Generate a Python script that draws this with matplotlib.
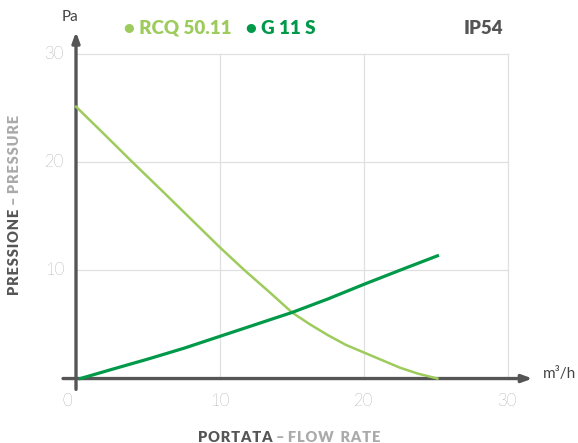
import matplotlib.pyplot as plt
import numpy as np

# curve data
rcq_x = [0, 2, 3.9, 6, 8, 10, 11.7, 13.5, 15, 16.25, 17.5, 18.75, 20, 21.25, 22.5, 23.75, 25.1]
rcq_y = [25.1, 22.5, 20.0, 17.3, 14.7, 12.1, 10.0, 7.9, 6.1, 5.0, 4.0, 3.1, 2.4, 1.7, 1.0, 0.45, 0.0]
g11_x = [0.3, 2.5, 5, 7.5, 10, 12.5, 15, 17.5, 20, 22.5, 25.1]
g11_y = [0.0, 0.85, 1.8, 2.8, 3.9, 5.0, 6.1, 7.35, 8.7, 10.0, 11.33]
ticks = [0, 10, 20, 30]

LIGHT = '#9dcb5c'
DARK = '#00994a'
AXC = '#555555'

plt.rcParams['font.family'] = ['Lato', 'DejaVu Sans']

fig = plt.figure(figsize=(5.78, 4.43), dpi=100)
ax = fig.add_axes([0.1315, 0.1455, 0.7474, 0.7336])
ax.set_xlim(0, 30)
ax.set_ylim(0, 30)
for s in ax.spines.values():
    s.set_visible(False)
ax.set_xticks([])
ax.set_yticks([])

# grid
for t in ticks[1:]:
    ax.plot([t, t], [0, 30], color='#e0e0e0', lw=0.9, zorder=1, clip_on=False)
    ax.plot([0, 30], [t, t], color='#e0e0e0', lw=0.9, zorder=1, clip_on=False)

# axes with arrows
arr = dict(arrowstyle='-|>,head_length=0.6,head_width=0.22', color=AXC, lw=2.4,
           shrinkA=0, shrinkB=0)
ax.annotate('', xy=(31.7, 0), xytext=(-0.9, 0), arrowprops=arr,
            annotation_clip=False, zorder=3)
ax.annotate('', xy=(0, 32.0), xytext=(0, -1.0), arrowprops=arr,
            annotation_clip=False, zorder=3)

ax.plot(rcq_x, rcq_y, color=LIGHT, lw=1.8, zorder=4, clip_on=False)
ax.plot(g11_x, g11_y, color=DARK, lw=2.3, zorder=4, clip_on=False)

# tick labels
for t in ticks:
    ax.text(t - (0.6 if t == 0 else 0), -1.3, str(t), ha='center', va='top',
            fontsize=12, color='#5a5a5a', fontweight='light')
for t in ticks[1:]:
    ax.text(-0.8, t, str(t), ha='right', va='center',
            fontsize=12, color='#5a5a5a', fontweight='light')

ax.text(-0.45, 32.7, 'Pa', ha='center', va='bottom', fontsize=11, color='#444444')
ax.text(32.4, 0.4, 'm³/h', ha='left', va='center', fontsize=11, color='#444444')

# legend / header
fig.text(124 / 578, 1 - 28 / 443, '• RCQ 50.11', color=LIGHT, fontsize=13.5,
         fontweight='heavy', va='center', ha='left')
fig.text(246 / 578, 1 - 28 / 443, '• G 11 S', color=DARK, fontsize=13.5,
         fontweight='heavy', va='center', ha='left')
fig.text(503 / 578, 1 - 28 / 443, 'IP54', color=AXC, fontsize=13.5,
         fontweight='heavy', va='center', ha='right')


def spaced(s):
    return '\u200a'.join(s)


# axis titles
fig.text(276 / 578, 1 - 438 / 443, spaced('PORTATA') + ' ', color=AXC, fontsize=10.5,
         fontweight='heavy', ha='right', va='center')
fig.text(276 / 578, 1 - 438 / 443, '– ' + spaced('FLOW') + '  ' + spaced('RATE'),
         color='#aaaaaa', fontsize=10.5, fontweight='heavy', ha='left', va='center')
fig.text(15 / 578, 1 - 205 / 443, spaced('PRESSIONE') + ' ', color=AXC, fontsize=10.5,
         fontweight='heavy', rotation=90, ha='center', va='top')
fig.text(15 / 578, 1 - 205 / 443, '– ' + spaced('PRESSURE'), color='#aaaaaa', fontsize=10.5,
         fontweight='heavy', rotation=90, ha='center', va='bottom')

fig.savefig('out.png', dpi=100)
